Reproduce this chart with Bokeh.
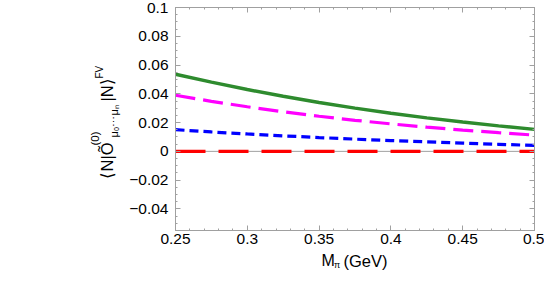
import numpy as np
from bokeh.plotting import figure
from bokeh.layouts import row, column
from bokeh.models import LinearAxis, FixedTicker, Span, ColumnDataSource
from bokeh.core.properties import value
from bokeh.embed import file_html
from bokeh.resources import INLINE

# ---- data ----
m_pi = [0.25, 0.275, 0.30, 0.325, 0.35, 0.375, 0.40, 0.425, 0.45, 0.475, 0.50]
green = [0.0536, 0.0481, 0.0430, 0.0383, 0.0340, 0.0301, 0.0265, 0.0233, 0.0204, 0.0177, 0.0153]
magenta = [0.0390, 0.0348, 0.0310, 0.0275, 0.0244, 0.0216, 0.0191, 0.0168, 0.0148, 0.0130, 0.0113]
blue = [0.0151, 0.0135, 0.0121, 0.0108, 0.0096, 0.0085, 0.0075, 0.0066, 0.0057, 0.0049, 0.0041]
red = [0.0, 0.0, 0.0, 0.0, 0.0, 0.0, 0.0, 0.0, 0.0, 0.0, 0.0]

x_ticks = [0.25, 0.30, 0.35, 0.40, 0.45, 0.50]
x_tick_labels = ["0.25", "0.3", "0.35", "0.4", "0.45", "0.5"]
y_ticks = [-0.04, -0.02, 0.0, 0.02, 0.04, 0.06, 0.08, 0.10]
y_tick_labels = ["\u22120.04", "\u22120.02", "0", "0.02", "0.04", "0.06", "0.08", "0.1"]

X0, X1 = 0.25, 0.50
Y0, Y1 = -0.055, 0.10

FONT = "Liberation Sans"
GRAY = "#a0a0a0"

# ---- layout sizes (px) ----
LW = 126            # strip holding the rotated y-axis title
PW, PH = 418, 251   # main plot
ML, MR, MT, MB = 48, 10, 7, 21
BH = 28             # strip holding the x-axis title
TOTAL_W = LW + PW

p = figure(width=PW, height=PH, x_range=(X0, X1), y_range=(Y0, Y1),
           output_backend="svg", toolbar_location=None,
           min_border_left=ML, min_border_right=MR, min_border_top=MT, min_border_bottom=MB)
p.grid.visible = False
p.outline_line_color = GRAY
p.outline_line_width = 1

x_minor = [round(v, 3) for v in np.arange(0.25, 0.5001, 0.01)]
y_minor = [round(v, 4) for v in np.arange(-0.055, 0.1001, 0.005)]

def style_axis(ax, ticks, minor, labels, show_labels=True):
    ax.ticker = FixedTicker(ticks=ticks, minor_ticks=minor)
    ax.axis_line_color = GRAY
    ax.major_tick_line_color = GRAY
    ax.minor_tick_line_color = GRAY
    ax.major_tick_in = 5
    ax.major_tick_out = 0
    ax.minor_tick_in = 2
    ax.minor_tick_out = 0
    if show_labels:
        ax.major_label_overrides = {t: l for t, l in zip(ticks, labels)}
        ax.major_label_text_font = FONT
        ax.major_label_text_font_size = "15.5px"
        ax.major_label_text_color = "black"
    else:
        ax.major_label_overrides = {t: "" for t in ticks}
        ax.major_label_text_font_size = "1px"
        ax.major_label_standoff = 0

style_axis(p.xaxis[0], x_ticks, x_minor, x_tick_labels)
p.xaxis[0].major_label_standoff = 3
style_axis(p.yaxis[0], y_ticks, y_minor, y_tick_labels)
p.yaxis[0].major_label_standoff = 7

top = LinearAxis()
style_axis(top, x_ticks, x_minor, x_tick_labels, show_labels=False)
p.add_layout(top, "above")
right = LinearAxis()
style_axis(right, y_ticks, y_minor, y_tick_labels, show_labels=False)
p.add_layout(right, "right")

# zero axis line, under the curves
p.add_layout(Span(location=0, dimension="width", line_color=GRAY, line_width=1, level="underlay"))

src = ColumnDataSource(dict(x=m_pi, g=green, m=magenta, b=blue, r=red))
p.line("x", "r", source=src, line_color="#ff0000", line_width=3.3, line_dash="30 13")
p.line("x", "b", source=src, line_color="#0000ff", line_width=3.2, line_dash="9 5")
p.line("x", "m", source=src, line_color="#ff00ff", line_width=3.2, line_dash="20 8")
p.line("x", "g", source=src, line_color="#2e8b2e", line_width=3.4)

# ---- text strips: data coordinates = page pixels (y negated) ----
def text_strip(w, h, x_page0, y_page0, y_page1, mt=0, mb=0):
    f = figure(width=w, height=h,
               x_range=(x_page0, x_page0 + w), y_range=(-y_page1, -y_page0),
               output_backend="svg", toolbar_location=None,
               x_axis_type=None, y_axis_type=None,
               min_border_left=0, min_border_right=0, min_border_top=mt, min_border_bottom=mb)
    f.outline_line_color = None
    f.grid.visible = False
    return f

# L shares the main plot's frame rows (page y MT..PH-MB)
L = text_strip(LW, PH, 0, MT, PH - MB, mt=MT, mb=MB)
B = text_strip(TOTAL_W, BH, 0, PH, PH + BH)

def put(fig, text, px, py, size, angle=0.0):
    fig.text(x=[px], y=[-py], text=[text], angle=angle,
             text_font=value(FONT), text_font_size=value(size), text_color="black",
             text_align="left", text_baseline="middle")

A = np.pi / 2
# y-axis title: <N|O~^(0)_{mu0...mun}|N>^FV (rotated); x = centre line of each piece
put(L, "\u27e8N|\u00d5", 106.7, 178, "16.5px", A)
put(L, "(0)", 94.5, 145, "11.5px", A)
put(L, "\u03bc\u2080\u22ef\u03bc\u2099", 113.2, 137, "11px", A)
put(L, "|N\u27e9", 106.7, 101, "16.5px", A)
put(L, "FV", 98.5, 78, "10px", A)

# x-axis title: M_pi (GeV); y = centre line of each piece
put(B, "M", 321, 260.2, "16px")
put(B, "\u03c0", 333.5, 264.5, "9px")
put(B, "(GeV)", 343, 260.4, "16.5px")

layout = column(row(L, p, spacing=0), B, spacing=0)
open("out.html", "w").write(file_html(layout, INLINE))
